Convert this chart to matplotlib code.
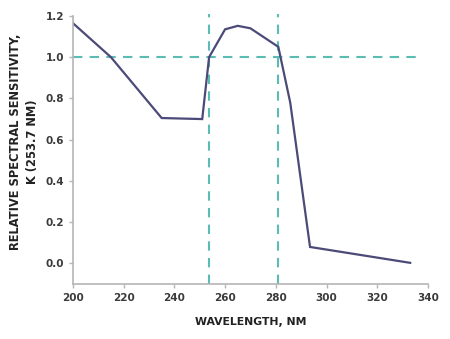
import matplotlib
matplotlib.use("Agg")
import matplotlib.pyplot as plt

# wavelength (nm) vs relative spectral sensitivity
wavelength = [200, 215, 235, 251, 253.7, 260, 265, 270, 281, 285.7, 293.5, 333]
sensitivity = [1.165, 1.0, 0.705, 0.70, 1.0, 1.135, 1.152, 1.14, 1.05, 0.78, 0.08, 0.003]
ref_lines_x = [253.7, 281]
ref_line_y = 1.0
xticks = [200, 220, 240, 260, 280, 300, 320, 340]
yticks = [0.0, 0.2, 0.4, 0.6, 0.8, 1.0, 1.2]

fig = plt.figure(figsize=(4.5, 3.39), dpi=100)
ax = fig.add_axes([0.162, 0.162, 0.789, 0.791])

teal = "#5bbcb4"
for xv in ref_lines_x:
    ax.plot([xv, xv], [-0.1, 1.21], color=teal, ls=(0, (4.5, 3.5)), lw=1.5, clip_on=False)
ax.plot([200, 337], [ref_line_y, ref_line_y], color=teal, ls=(0, (4.5, 3.5)), lw=1.5)

ax.plot(wavelength, sensitivity, color="#4b4a78", lw=1.6, solid_joinstyle="miter")

ax.set_xlim(200, 340)
ax.set_ylim(-0.1, 1.2)
ax.set_xticks(xticks)
ax.set_yticks(yticks)
ax.set_yticklabels(["%.1f" % v for v in yticks])

for s in ["top", "right"]:
    ax.spines[s].set_visible(False)
for s in ["left", "bottom"]:
    ax.spines[s].set_color("#b5b5b5")
    ax.spines[s].set_linewidth(1.2)
ax.tick_params(colors="#b5b5b5", length=3, width=1)
for lab in ax.get_xticklabels() + ax.get_yticklabels():
    lab.set_color("#3a3a3a")
    lab.set_fontsize(7.5)
    lab.set_fontweight("bold")

ax.set_xlabel("WAVELENGTH, NM", fontsize=7.8, fontweight="bold", color="#222222", labelpad=10)
ax.set_ylabel("RELATIVE SPECTRAL SENSITIVITY,\nK (253.7 NM)", fontsize=8.3,
              fontweight="bold", color="#222222", linespacing=1.4)
ax.yaxis.set_label_coords(-0.095, 0.53)

fig.savefig("out.png", dpi=100)
